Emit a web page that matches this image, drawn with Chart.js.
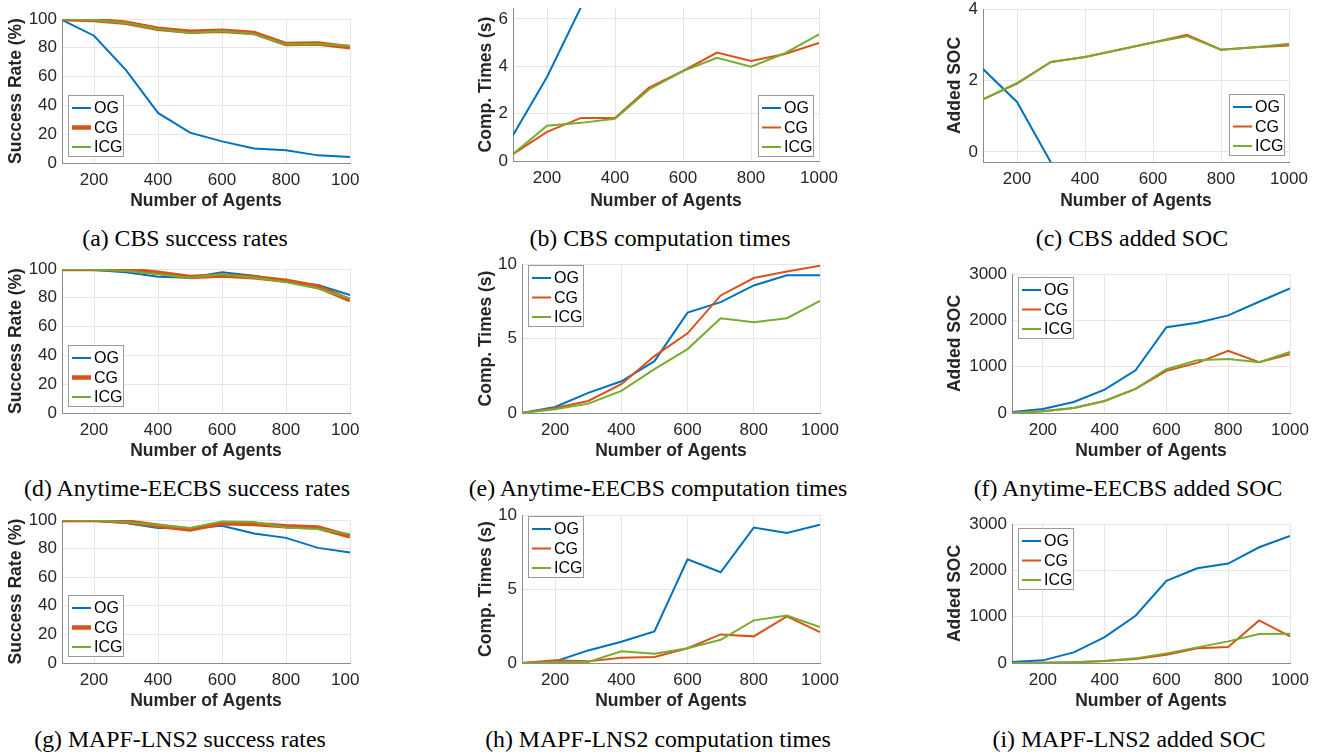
<!DOCTYPE html>
<html>
<head>
<meta charset="utf-8">
<script src="https://cdn.jsdelivr.net/npm/chart.js@4.4.1/dist/chart.umd.min.js"></script>
<style>
body { margin: 0; background: #fff; width: 1323px; height: 755px; position: relative; overflow: hidden; }
canvas { position: absolute; }
.cap { position: absolute; width: 440px; text-align: center; font: 23.8px "Liberation Serif", "Times New Roman", serif; line-height: 28px; color: #000; white-space: nowrap; }
</style>
</head>
<body>
<script>
// number of agents on every x axis
const agents = [100, 200, 300, 400, 500, 600, 700, 800, 900, 1000];

// CBS
const cbsRateOG  = [99.3, 88.4, 64.5, 34.8, 21.1, 15, 10, 8.8, 5.3, 4.2];
const cbsRateCG  = [100, 99.3, 97.4, 93.3, 91.2, 91.9, 90.3, 82.6, 83, 80.3];
const cbsRateICG = [100, 99.3, 97.2, 93.1, 90.5, 91.6, 89.6, 82.4, 82.6, 81.4];
const cbsTimeOG  = [1.09, 3.55, 6.5, null, null, null, null, null, null, null];
const cbsTimeCG  = [0.29, 1.23, 1.82, 1.82, 3.1, 3.8, 4.58, 4.22, 4.52, 4.98];
const cbsTimeICG = [0.29, 1.49, 1.61, 1.78, 3.02, 3.8, 4.36, 3.98, 4.55, 5.35];
const cbsSocOG   = [2.32, 1.4, -0.3, null, null, null, null, null, null, null];
const cbsSocCG   = [1.47, 1.91, 2.52, 2.66, 2.86, 3.06, 3.28, 2.86, 2.93, 2.98];
const cbsSocICG  = [1.47, 1.93, 2.52, 2.66, 2.86, 3.06, 3.24, 2.86, 2.93, 3.03];

// Anytime-EECBS
const eeRateOG   = [99.3, 99.3, 97.7, 94.7, 94, 97.7, 95.4, 91.2, 88.9, 81.9];
const eeRateCG   = [100, 100, 99.8, 97.4, 94.4, 95.4, 94.2, 91.9, 87.7, 78.4];
const eeRateICG  = [99.6, 99.6, 98.6, 96.4, 94, 96.4, 94, 91, 86.5, 79.5];
const eeTimeOG   = [0, 0.4, 1.35, 2.13, 3.48, 6.74, 7.44, 8.56, 9.24, 9.24];
const eeTimeCG   = [0, 0.34, 0.81, 1.93, 3.82, 5.35, 7.89, 9.06, 9.5, 9.89];
const eeTimeICG  = [0, 0.25, 0.63, 1.48, 2.94, 4.29, 6.36, 6.09, 6.36, 7.53];
const eeSocOG    = [22, 87, 238, 505, 923, 1853, 1947, 2106, 2401, 2690];
const eeSocCG    = [5, 36, 108, 260, 519, 909, 1082, 1341, 1096, 1269];
const eeSocICG   = [5, 36, 108, 260, 519, 945, 1139, 1168, 1096, 1320];

// MAPF-LNS2
const lnsRateOG  = [99.5, 99.5, 97.9, 94.4, 94, 96, 90.5, 87.5, 80.5, 77.3];
const lnsRateCG  = [100, 100, 99, 96, 93.3, 97.7, 97.2, 95.6, 94.7, 88.6];
const lnsRateICG = [100, 99.8, 98.4, 96.5, 94.4, 99, 98.6, 94.7, 93.7, 90];
const lnsTimeOG  = [0, 0.1, 0.85, 1.44, 2.13, 7.01, 6.13, 9.15, 8.79, 9.35];
const lnsTimeCG  = [0, 0.18, 0.11, 0.36, 0.4, 1.0, 1.93, 1.8, 3.15, 2.09];
const lnsTimeICG = [0, 0.07, 0.07, 0.79, 0.63, 1.0, 1.57, 2.88, 3.21, 2.43];
const lnsSocOG   = [22, 57, 230, 560, 1019, 1773, 2045, 2146, 2498, 2742];
const lnsSocCG   = [0, 7, 14, 43, 86, 179, 316, 344, 919, 574];
const lnsSocICG  = [0, 7, 14, 43, 100, 208, 337, 467, 624, 632];

const seriesNames = ["OG", "CG", "ICG"];
const seriesColors = ["#0072BD", "#D95319", "#77AC30"];
const SANS = '"Liberation Sans", Arial, Helvetica, sans-serif';

// axis titles and the legend box are drawn here
const decor = {
    id: "decor",
    afterDraw(chart, args, o) {
        const ctx = chart.ctx, a = chart.chartArea;
        ctx.save();
        ctx.fillStyle = "#262626";
        ctx.font = "bold 17.5px " + SANS;
        ctx.textAlign = "center";
        ctx.textBaseline = "middle";
        ctx.fillText(o.xTitle, (a.left + a.right) / 2, a.bottom + o.xTitleOff);
        ctx.translate(a.left - o.yTitleOff, (a.top + a.bottom) / 2);
        ctx.rotate(-Math.PI / 2);
        ctx.fillText(o.yTitle, 0, 0);
        ctx.restore();

        const w = 56, h = 62, lg = o.legend;
        const x = lg.corner.includes("w") ? a.left + lg.dx : a.right - lg.dx - w;
        const y = lg.corner.includes("n") ? a.top + lg.dy : a.bottom - lg.dy - h;
        ctx.save();
        ctx.fillStyle = "#fff";
        ctx.fillRect(x, y, w, h);
        ctx.strokeStyle = "#9a9a9a";
        ctx.lineWidth = 1;
        ctx.strokeRect(Math.round(x) + 0.5, Math.round(y) + 0.5, w - 1, h - 1);
        ctx.font = "16px " + SANS;
        ctx.textAlign = "left";
        ctx.textBaseline = "middle";
        chart.data.datasets.forEach((ds, i) => {
            const cy = y + 13 + i * 19.5;
            ctx.strokeStyle = ds.borderColor;
            ctx.lineWidth = ds.borderWidth;
            ctx.beginPath();
            ctx.moveTo(x + 4, cy);
            ctx.lineTo(x + 23, cy);
            ctx.stroke();
            ctx.fillStyle = "#000";
            ctx.fillText(ds.label, x + 26, cy + 1);
        });
        ctx.restore();
    }
};

const panels = [
    { rect: [62, 19, 350, 163], right: 10, y: [0, 100, 20], data: [cbsRateOG, cbsRateCG, cbsRateICG], thick: true,
      yTitle: "Success Rate (%)", yOff: 46, xOff: 38, legend: { corner: "sw", dx: 6, dy: 6 },
      caption: "(a) CBS success rates", cx: 185, cy: 238 },
    { rect: [513, 8, 819, 161], y: [0, 6.46, 2], data: [cbsTimeOG, cbsTimeCG, cbsTimeICG],
      yTitle: "Comp. Times (s)", yOff: 27, xOff: 40, legend: { corner: "se", dx: 5, dy: 4 },
      caption: "(b) CBS computation times", cx: 660, cy: 238 },
    { rect: [983, 9, 1289, 162], y: [-0.28, 4, 2], data: [cbsSocOG, cbsSocCG, cbsSocICG],
      yTitle: "Added SOC", yOff: 28, xOff: 39, legend: { corner: "se", dx: 4, dy: 6 },
      caption: "(c) CBS added SOC", cx: 1132, cy: 238 },
    { rect: [62, 269, 350, 413], right: 10, y: [0, 100, 20], data: [eeRateOG, eeRateCG, eeRateICG], thick: true,
      yTitle: "Success Rate (%)", yOff: 46, xOff: 38.5, legend: { corner: "sw", dx: 6, dy: 6 },
      caption: "(d) Anytime-EECBS success rates", cx: 187, cy: 488 },
    { rect: [522, 264, 820, 413], y: [0, 10, 5], data: [eeTimeOG, eeTimeCG, eeTimeICG],
      yTitle: "Comp. Times (s)", yOff: 36, xOff: 38.5, legend: { corner: "nw", dx: 6, dy: 1 },
      caption: "(e) Anytime-EECBS computation times", cx: 658, cy: 488 },
    { rect: [1012, 274, 1290, 413], y: [0, 3000, 1000], data: [eeSocOG, eeSocCG, eeSocICG],
      yTitle: "Added SOC", yOff: 56.5, xOff: 38.5, legend: { corner: "nw", dx: 6, dy: 3 },
      caption: "(f) Anytime-EECBS added SOC", cx: 1128, cy: 488 },
    { rect: [62, 520, 350, 663], right: 10, y: [0, 100, 20], data: [lnsRateOG, lnsRateCG, lnsRateICG], thick: true,
      yTitle: "Success Rate (%)", yOff: 46, xOff: 38.5, legend: { corner: "sw", dx: 6, dy: 6 },
      caption: "(g) MAPF-LNS2 success rates", cx: 180, cy: 739 },
    { rect: [522, 515, 820, 663], y: [0, 10, 5], data: [lnsTimeOG, lnsTimeCG, lnsTimeICG],
      yTitle: "Comp. Times (s)", yOff: 36, xOff: 38.5, legend: { corner: "nw", dx: 6, dy: 1 },
      caption: "(h) MAPF-LNS2 computation times", cx: 658, cy: 739 },
    { rect: [1012, 524, 1290, 663], y: [0, 3000, 1000], data: [lnsSocOG, lnsSocCG, lnsSocICG],
      yTitle: "Added SOC", yOff: 56.5, xOff: 38.5, legend: { corner: "nw", dx: 6, dy: 4 },
      caption: "(i) MAPF-LNS2 added SOC", cx: 1129, cy: 739 }
];

const YW = 70, TOP = 12, XH = 50;

panels.forEach(p => {
    const [l, t, r, b] = p.rect;
    const right = p.right || 25;
    const cv = document.createElement("canvas");
    cv.width = r - l + YW + right;
    cv.height = b - t + TOP + XH;
    cv.style.left = (l - YW) + "px";
    cv.style.top = (t - TOP) + "px";
    document.body.appendChild(cv);

    const cap = document.createElement("div");
    cap.className = "cap";
    cap.textContent = p.caption;
    cap.style.left = (p.cx - 220) + "px";
    cap.style.top = (p.cy - 14) + "px";
    document.body.appendChild(cap);

    const datasets = p.data.map((vals, i) => ({
        label: seriesNames[i],
        data: agents.map((a, k) => ({ x: a, y: vals[k] })),
        borderColor: seriesColors[i],
        borderWidth: (p.thick && i === 1) ? 4.5 : 2,
        order: 3 - i,
        pointRadius: 0,
        tension: 0,
        fill: false
    }));

    const tickFont = { family: SANS, size: 17 };
    new Chart(cv.getContext("2d"), {
        type: "line",
        data: { datasets },
        plugins: [decor],
        options: {
            responsive: false,
            animation: false,
            devicePixelRatio: 1,
            events: [],
            layout: { padding: { left: 0, top: TOP, right: right, bottom: 0 } },
            plugins: {
                legend: { display: false },
                tooltip: { enabled: false },
                decor: { xTitle: "Number of Agents", yTitle: p.yTitle, xTitleOff: p.xOff, yTitleOff: p.yOff, legend: p.legend }
            },
            scales: {
                x: {
                    type: "linear", min: 100, max: 1000,
                    afterFit(s) { s.height = XH; s.paddingLeft = 0; s.paddingRight = 0; },
                    ticks: { stepSize: 200, includeBounds: false, padding: 7, color: "#262626", font: tickFont,
                             maxRotation: 0, autoSkip: false, callback: v => String(v) },
                    grid: { color: "#e6e6e6", drawTicks: false },
                    border: { color: "#8c8c8c", width: 1 }
                },
                y: {
                    min: p.y[0], max: p.y[1],
                    afterFit(s) { s.width = YW; s.paddingTop = 0; s.paddingBottom = 0; },
                    ticks: { stepSize: p.y[2], includeBounds: false, padding: 5, color: "#262626", font: tickFont,
                             callback: v => String(v) },
                    grid: { color: "#e6e6e6", drawTicks: false },
                    border: { color: "#8c8c8c", width: 1 }
                }
            }
        }
    });
});
</script>
</body>
</html>
